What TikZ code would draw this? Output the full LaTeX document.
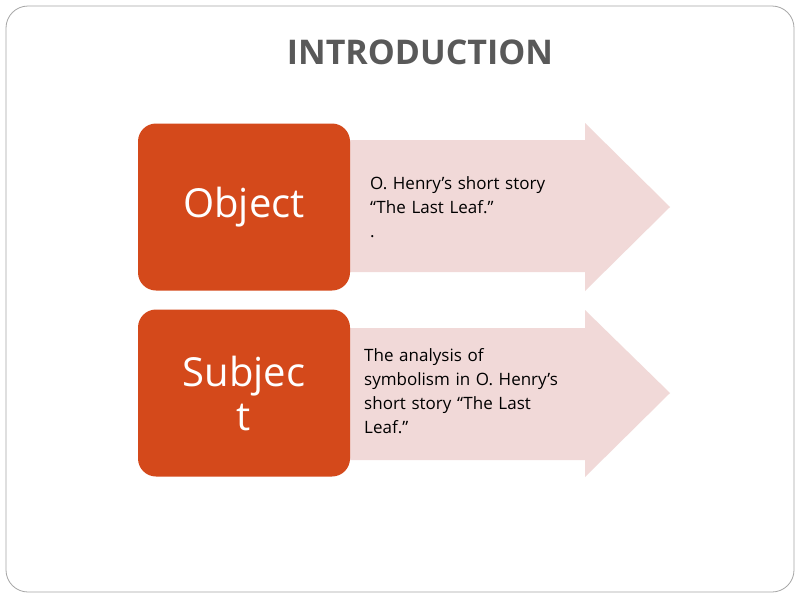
\documentclass[tikz,border=0pt]{standalone}
\usepackage{fontspec}
\setmainfont{Open Sans}
\usetikzlibrary{positioning}
\definecolor{boxred}{HTML}{D4491B}
\definecolor{arrowpink}{HTML}{F1D9D8}
\definecolor{titlegrey}{HTML}{595959}
\tikzset{
  topic/.style={fill=boxred, rounded corners=18pt, minimum width=212pt, minimum height=167pt,
    text=white, font=\fontsize{40}{44}\selectfont, align=center, text width=180pt, inner sep=0pt},
  note/.style={anchor=west, text width=230pt, align=left, font=\fontsize{17}{24}\selectfont, inner sep=0pt},
  shaft/.style={fill=arrowpink}
}
\begin{document}
\begin{tikzpicture}[x=1pt,y=-1pt]
\useasboundingbox (0,0) rectangle (800,600);
\fill[white] (0,0) rectangle (800,600);
\draw[gray!70, line width=0.8pt, rounded corners=22pt] (6,6) rectangle (794,592);

\node (title) at (420,52) [font=\fontsize{34}{40}\selectfont\bfseries, text=titlegrey] {INTRODUCTION};

% first row
\fill[shaft] (340,140) -- (585,140) -- (585,123) -- (670,207) -- (585,291) -- (585,272) -- (340,272) -- cycle;
\node (obj) at (244,207) [topic] {Object};
\node (objtext) at (370,207) [note] {O. Henry's short story\\“The Last Leaf.”\\.};

% second row
\fill[shaft] (340,328) -- (585,328) -- (585,310) -- (670,393) -- (585,477) -- (585,460) -- (340,460) -- cycle;
\node (subj) at (244,393) [topic] {Subjec\\t};
\node (subjtext) at (364,391) [note] {The analysis of\\symbolism in O. Henry’s\\short story “The Last\\Leaf.”};
\end{tikzpicture}
\end{document}
